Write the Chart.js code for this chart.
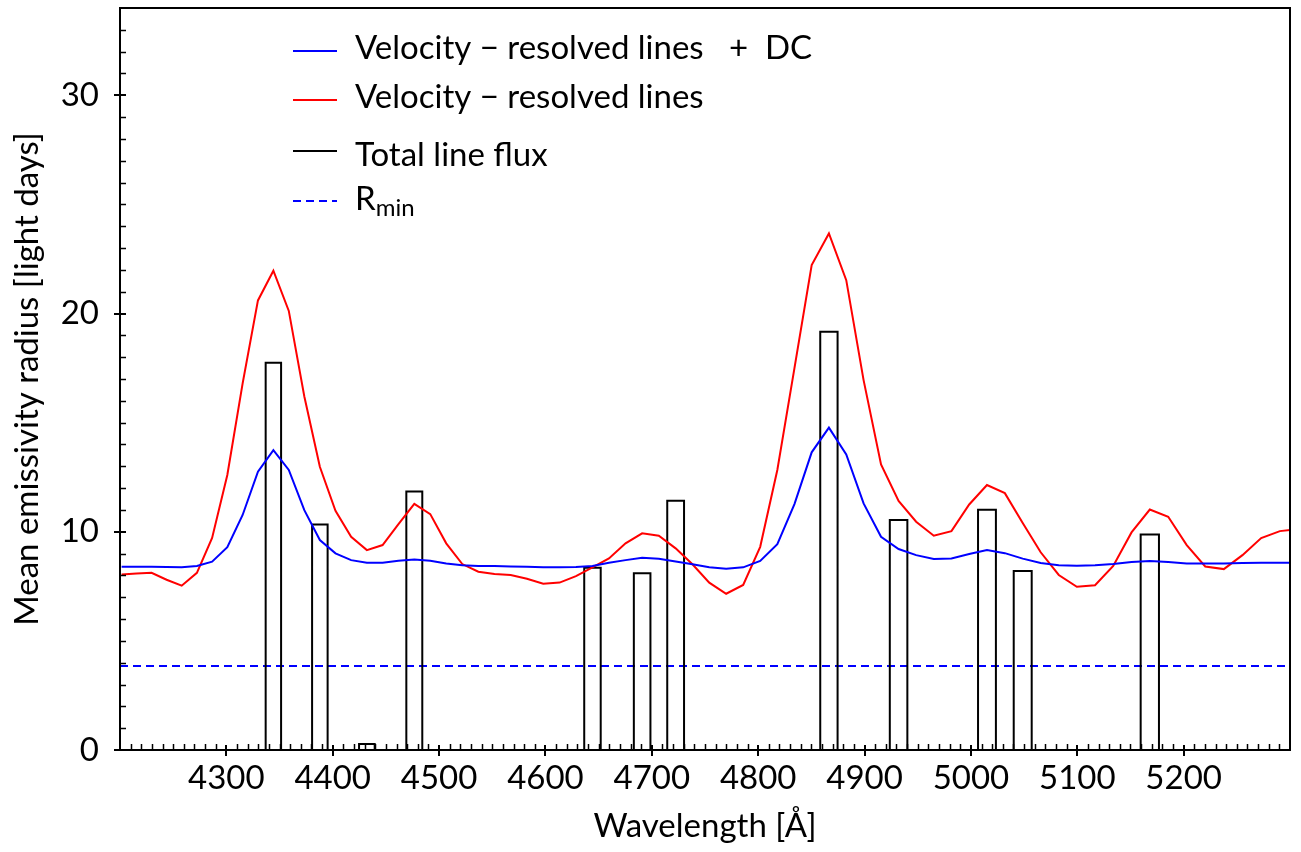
<!DOCTYPE html>
<html>
<head>
<meta charset="utf-8">
<script src="https://cdn.jsdelivr.net/npm/chart.js@4.4.1/dist/chart.umd.min.js"></script>
<style>
  html, body { margin: 0; padding: 0; background: #fff; }
  #chart { display: block; }
</style>
</head>
<body>
<canvas id="chart" width="1301" height="852"></canvas>
<script>
const FONT = 'Lato, "DejaVu Sans", sans-serif';

// wavelength grid [Å] of the velocity-resolved curves
const wavelength = [
  4201.5, 4215.6, 4229.7, 4243.8, 4258.0, 4272.3, 4286.6, 4300.9, 4315.3, 4329.7,
  4344.2, 4358.7, 4373.3, 4387.9, 4402.6, 4417.3, 4432.1, 4446.9, 4461.8, 4476.7,
  4491.7, 4506.7, 4521.8, 4536.9, 4552.1, 4567.3, 4582.6, 4597.9, 4613.3, 4628.7,
  4644.2, 4659.7, 4675.3, 4690.9, 4706.6, 4722.4, 4738.2, 4754.0, 4769.9, 4785.9,
  4801.9, 4818.0, 4834.1, 4850.3, 4866.5, 4882.8, 4899.1, 4915.5, 4932.0, 4948.5,
  4965.1, 4981.7, 4998.4, 5015.1, 5031.9, 5048.7, 5065.6, 5082.6, 5099.6, 5116.7,
  5133.8, 5151.0, 5168.2, 5185.5, 5202.9, 5220.3, 5237.8, 5255.3, 5272.9, 5290.5, 5308.2
];

// velocity-resolved lines + DC (blue)
const radiusVelDC = [
  8.40, 8.40, 8.40, 8.39, 8.37, 8.43, 8.63, 9.29, 10.77, 12.75,
  13.74, 12.83, 10.99, 9.62, 9.01, 8.70, 8.58, 8.58, 8.67, 8.73,
  8.67, 8.55, 8.47, 8.43, 8.43, 8.41, 8.40, 8.37, 8.37, 8.38,
  8.43, 8.58, 8.70, 8.81, 8.76, 8.64, 8.51, 8.37, 8.31, 8.37,
  8.66, 9.43, 11.27, 13.64, 14.77, 13.54, 11.30, 9.77, 9.21, 8.93,
  8.75, 8.78, 8.98, 9.16, 9.02, 8.77, 8.57, 8.47, 8.44, 8.47,
  8.52, 8.61, 8.66, 8.61, 8.55, 8.55, 8.55, 8.57, 8.58, 8.58, 8.58
];

// velocity-resolved lines (red)
const radiusVel = [
  8.04, 8.09, 8.12, 7.80, 7.53, 8.12, 9.72, 12.60, 16.80, 20.60,
  21.96, 20.12, 16.20, 12.98, 10.96, 9.77, 9.16, 9.39, 10.35, 11.28,
  10.81, 9.47, 8.52, 8.17, 8.06, 8.02, 7.85, 7.62, 7.67, 7.97,
  8.37, 8.78, 9.47, 9.93, 9.82, 9.24, 8.51, 7.67, 7.16, 7.56,
  9.31, 12.83, 17.50, 22.22, 23.67, 21.53, 16.95, 13.09, 11.41, 10.46,
  9.82, 10.03, 11.25, 12.14, 11.77, 10.40, 9.06, 8.02, 7.48, 7.55,
  8.43, 9.97, 11.02, 10.69, 9.39, 8.41, 8.29, 8.93, 9.71, 10.03, 10.12
];

// total line flux bins
const lineCenter = [4344.2, 4387.9, 4432.1, 4476.7, 4644.2, 4690.9, 4722.4, 4866.5, 4932.0, 5015.1, 5048.7, 5168.2];
const lineBinWidth = [14.5, 14.6, 14.7, 15.0, 15.5, 15.6, 15.8, 16.3, 16.5, 16.8, 16.9, 17.2];
const lineFluxRadius = [17.75, 10.33, 0.28, 11.85, 8.35, 8.10, 11.42, 19.16, 10.54, 11.01, 8.20, 9.88];

const rMin = 3.85;
const xRange = [4200, 5300];
const yRange = [0, 34];
const xTickValues = [4300, 4400, 4500, 4600, 4700, 4800, 4900, 5000, 5100, 5200];
const yTickValues = [0, 10, 20, 30];

// outline of each flux bin, traced through the x/y scales
const barOutline = [];
lineCenter.forEach((c, i) => {
  const x0 = c - lineBinWidth[i] / 2, x1 = c + lineBinWidth[i] / 2;
  barOutline.push({ x: x0, y: 0 }, { x: x0, y: lineFluxRadius[i] },
                  { x: x1, y: lineFluxRadius[i] }, { x: x1, y: 0 }, { x: x1, y: null });
});

const frameAndTicks = {
  id: 'frameAndTicks',
  afterDraw(chart) {
    const { ctx, chartArea: a, scales: { x, y } } = chart;
    ctx.save();
    ctx.strokeStyle = '#000';
    ctx.lineWidth = 1.5;
    ctx.beginPath();
    // minor x ticks every 10 Å, pointing inward
    for (let v = xRange[0] + 10; v < xRange[1]; v += 10) {
      if (v % 100 === 0) continue;
      const px = Math.round(x.getPixelForValue(v)) + 0.5;
      ctx.moveTo(px, a.bottom); ctx.lineTo(px, a.bottom - 6);
    }
    // minor y ticks every 1
    for (let v = yRange[0] + 1; v < yRange[1]; v += 1) {
      if (v % 10 === 0) continue;
      const py = Math.round(y.getPixelForValue(v)) + 0.5;
      ctx.moveTo(a.left, py); ctx.lineTo(a.left + 6, py);
    }
    ctx.stroke();
    ctx.lineWidth = 2;
    ctx.beginPath();
    xTickValues.forEach(v => {
      const px = Math.round(x.getPixelForValue(v));
      ctx.moveTo(px, a.bottom - 5); ctx.lineTo(px, a.bottom + 6);
    });
    yTickValues.forEach(v => {
      const py = Math.round(y.getPixelForValue(v));
      ctx.moveTo(a.left - 6, py); ctx.lineTo(a.left + 6, py);
    });
    ctx.stroke();
    ctx.strokeRect(a.left, a.top, a.right - a.left, a.bottom - a.top);
    ctx.restore();
  }
};

// legend rows: sample line position and text baseline
const legendRows = [
  { lineY: 51, baseY: 59 },
  { lineY: 100, baseY: 108 },
  { lineY: 151, baseY: 166 },
  { lineY: 201, baseY: 210 }
];

const legendBox = {
  id: 'legendBox',
  afterDraw(chart) {
    const { ctx } = chart;
    ctx.save();
    chart.data.datasets.forEach((ds, i) => {
      const row = legendRows[i];
      ctx.strokeStyle = ds.borderColor;
      ctx.lineWidth = ds.borderWidth;
      ctx.setLineDash(ds.borderDash || []);
      ctx.beginPath();
      ctx.moveTo(293, row.lineY); ctx.lineTo(337, row.lineY);
      ctx.stroke();
      ctx.setLineDash([]);
      ctx.fillStyle = '#000';
      ctx.textBaseline = 'alphabetic';
      ctx.textAlign = 'left';
      ctx.font = '33px ' + FONT;
      ctx.fillText(ds.label, 355, row.baseY);
      if (ds.labelSub) {
        const w = ctx.measureText(ds.label).width;
        ctx.font = '24px ' + FONT;
        ctx.fillText(ds.labelSub, 355 + w, row.baseY + 6);
      }
    });
    ctx.restore();
  }
};

new Chart(document.getElementById('chart'), {
  type: 'line',
  data: {
    datasets: [
      {
        label: 'Velocity \u2212 resolved lines   +  DC',
        data: wavelength.map((w, i) => ({ x: w, y: radiusVelDC[i] })),
        borderColor: '#0000ff', borderWidth: 2, pointRadius: 0, tension: 0
      },
      {
        label: 'Velocity \u2212 resolved lines',
        data: wavelength.map((w, i) => ({ x: w, y: radiusVel[i] })),
        borderColor: '#ff0000', borderWidth: 2, pointRadius: 0, tension: 0
      },
      {
        label: 'Total line flux',
        data: barOutline,
        borderColor: '#000000', borderWidth: 2, pointRadius: 0, tension: 0, spanGaps: false
      },
      {
        label: 'R', labelSub: 'min',
        data: [{ x: xRange[0], y: rMin }, { x: xRange[1], y: rMin }],
        borderColor: '#0000ff', borderWidth: 2, borderDash: [8, 5], pointRadius: 0
      }
    ]
  },
  options: {
    responsive: false,
    animation: false,
    devicePixelRatio: 1,
    layout: { padding: { top: 8, right: 11, left: 0, bottom: 0 } },
    plugins: { legend: { display: false }, tooltip: { enabled: false } },
    scales: {
      x: {
        type: 'linear', min: xRange[0], max: xRange[1],
        afterBuildTicks: s => { s.ticks = xTickValues.map(v => ({ value: v })); },
        afterFit: s => { s.height = 102; s.paddingLeft = 0; s.paddingRight = 0; },
        grid: { display: false, drawTicks: false, tickLength: 0 },
        border: { display: false },
        ticks: { color: '#000', font: { family: FONT, size: 33 }, padding: 9, maxRotation: 0,
                 callback: v => String(v) },
        title: { display: true, text: 'Wavelength [Å]', color: '#000',
                 font: { family: FONT, size: 33 }, padding: { top: 0, bottom: 6 } }
      },
      y: {
        type: 'linear', min: yRange[0], max: yRange[1],
        afterBuildTicks: s => { s.ticks = yTickValues.map(v => ({ value: v })); },
        afterFit: s => { s.width = 120; s.paddingTop = 0; s.paddingBottom = 0; },
        grid: { display: false, drawTicks: false, tickLength: 0 },
        border: { display: false },
        ticks: { color: '#000', font: { family: FONT, size: 33 }, padding: 21,
                 callback: v => String(v) },
        title: { display: true, text: 'Mean emissivity radius [light days]', color: '#000',
                 font: { family: FONT, size: 33 }, padding: { top: 8, bottom: 0 } }
      }
    }
  },
  plugins: [frameAndTicks, legendBox]
});
</script>
</body>
</html>
